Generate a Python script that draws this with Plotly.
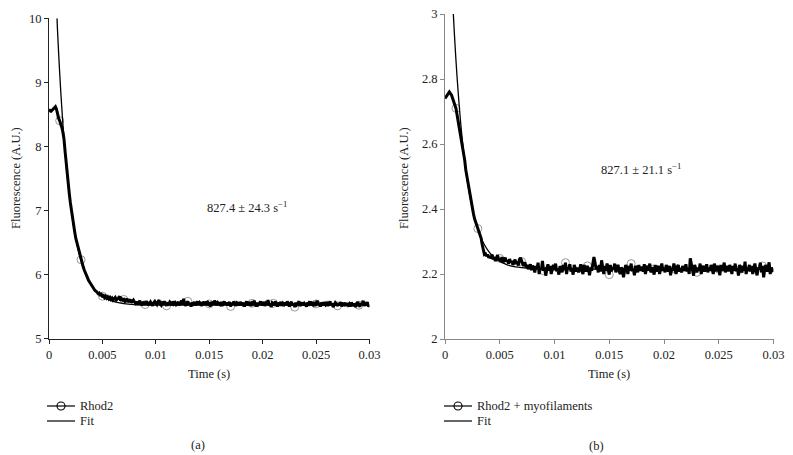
import numpy as np
import plotly.graph_objects as go

# ---------------- data ----------------
DT = 0.0001  # sampling interval of the traces (s)

rhod2_y = [
    8.54, 8.56, 8.55, 8.57, 8.58, 8.60, 8.62,
    8.58, 8.50, 8.44, 8.40, 8.36, 8.30, 8.22,
    8.12, 7.93, 7.74, 7.56, 7.41, 7.26, 7.12,
    6.99, 6.88, 6.77, 6.67, 6.57, 6.50, 6.42, 6.35, 6.28, 6.23,
    6.17, 6.12, 6.07, 6.02, 5.98, 5.95, 5.91, 5.88, 5.85, 5.83,
    5.80, 5.78, 5.75, 5.74, 5.72, 5.70, 5.71, 5.68, 5.69, 5.66,
    5.67, 5.64, 5.66, 5.63, 5.65, 5.62, 5.64, 5.61, 5.63, 5.60,
    5.62, 5.64, 5.60, 5.61, 5.63, 5.66, 5.59, 5.62, 5.60, 5.61,
    5.58, 5.60, 5.62, 5.57, 5.59, 5.61, 5.56, 5.58, 5.60, 5.57,
    5.55, 5.58, 5.53, 5.56, 5.59, 5.54, 5.52, 5.57, 5.55, 5.53, 5.58, 5.56, 5.52, 5.55, 5.57, 5.54, 5.51, 5.56, 5.58, 5.55,
    5.53, 5.57, 5.60, 5.54, 5.52, 5.56, 5.55, 5.58, 5.53, 5.51, 5.56, 5.54, 5.57, 5.55, 5.52, 5.58, 5.54, 5.56, 5.53, 5.55,
    5.57, 5.52, 5.55, 5.59, 5.53, 5.62, 5.54, 5.51, 5.56, 5.58, 5.53, 5.55, 5.50, 5.56, 5.54, 5.57, 5.52, 5.55, 5.58, 5.53,
    5.56, 5.54, 5.51, 5.57, 5.55, 5.53, 5.58, 5.52, 5.56, 5.54, 5.50, 5.57, 5.55, 5.53, 5.59, 5.54, 5.52, 5.56, 5.55, 5.53,
    5.57, 5.51, 5.55, 5.58, 5.53, 5.56, 5.52, 5.54, 5.57, 5.50, 5.55, 5.53, 5.58, 5.54, 5.51, 5.56, 5.55, 5.52, 5.57, 5.54,
    5.53, 5.56, 5.50, 5.55, 5.58, 5.52, 5.54, 5.57, 5.51, 5.55, 5.53, 5.59, 5.54, 5.50, 5.56, 5.53, 5.55, 5.58, 5.52, 5.54,
    5.57, 5.51, 5.55, 5.53, 5.60, 5.52, 5.54, 5.49, 5.56, 5.55, 5.52, 5.58, 5.53, 5.50, 5.56, 5.54, 5.57, 5.51, 5.55, 5.53,
    5.56, 5.52, 5.58, 5.54, 5.50, 5.55, 5.57, 5.52, 5.54, 5.49, 5.56, 5.53, 5.55, 5.58, 5.51, 5.54, 5.56, 5.52, 5.55, 5.53,
    5.50, 5.56, 5.54, 5.58, 5.52, 5.55, 5.53, 5.57, 5.51, 5.54, 5.59, 5.53, 5.55, 5.50, 5.56, 5.54, 5.52, 5.57, 5.53, 5.55,
    5.51, 5.54, 5.58, 5.52, 5.55, 5.49, 5.53, 5.56, 5.54, 5.51, 5.55, 5.52, 5.57, 5.50, 5.54, 5.53, 5.56, 5.51, 5.55, 5.52,
    5.54, 5.50, 5.56, 5.53, 5.51, 5.55, 5.49, 5.54, 5.57, 5.52, 5.50, 5.55, 5.53, 5.59, 5.51, 5.54, 5.52, 5.57, 5.50, 5.52,
]

rhod2_fit_t = [0.00075, 0.0008, 0.0009, 0.0010, 0.0011, 0.0012, 0.0013, 0.0014, 0.0015,
               0.0016, 0.0017, 0.0018, 0.0019, 0.0020, 0.0022, 0.0024, 0.0026, 0.0028,
               0.0030, 0.0033, 0.0036, 0.0040, 0.0045, 0.0050, 0.0055, 0.0060, 0.0070,
               0.0080, 0.0100, 0.0150, 0.0200, 0.0250, 0.0300]
rhod2_fit_y = [10.0, 9.80, 9.46, 9.15, 8.86, 8.60, 8.35, 8.13, 7.92,
               7.73, 7.55, 7.40, 7.25, 7.11, 6.87, 6.66, 6.49, 6.34,
               6.21, 6.06, 5.94, 5.82, 5.72, 5.65, 5.61, 5.58, 5.545,
               5.53, 5.522, 5.52, 5.52, 5.52, 5.52]

myo_y = [
    2.74, 2.745, 2.75, 2.755, 2.76, 2.755, 2.75, 2.74,
    2.73, 2.72, 2.71, 2.69, 2.67, 2.655,
    2.64, 2.62, 2.60, 2.575, 2.55, 2.52, 2.50,
    2.475, 2.455, 2.435, 2.415, 2.40, 2.385, 2.37, 2.36, 2.345, 2.34,
    2.33, 2.32, 2.31, 2.29, 2.27, 2.26, 2.262, 2.255, 2.26, 2.25,
    2.255, 2.248, 2.26, 2.245, 2.252, 2.24, 2.25, 2.258, 2.243, 2.248,
    2.24, 2.252, 2.236, 2.245, 2.25, 2.238, 2.242, 2.232, 2.246, 2.235,
    2.24, 2.228, 2.236, 2.244, 2.23, 2.238, 2.226, 2.245, 2.25, 2.238,
    2.23, 2.225, 2.236, 2.22, 2.228, 2.215, 2.222, 2.23, 2.212, 2.225,
    2.22, 2.205, 2.225, 2.215, 2.235, 2.2, 2.218, 2.212, 2.24, 2.21, 2.22, 2.195, 2.215, 2.23, 2.21, 2.225, 2.2, 2.218, 2.228, 2.212,
    2.232, 2.208, 2.215, 2.198, 2.224, 2.218, 2.205, 2.228, 2.212, 2.235, 2.2, 2.22, 2.215, 2.23, 2.208, 2.218, 2.198, 2.228, 2.215, 2.208,
    2.22, 2.205, 2.216, 2.23, 2.21, 2.2, 2.228, 2.218, 2.208, 2.225, 2.215, 2.196, 2.22, 2.21, 2.232, 2.252, 2.235, 2.215, 2.225, 2.205,
    2.228, 2.208, 2.242, 2.215, 2.2, 2.225, 2.21, 2.232, 2.218, 2.198, 2.228, 2.208, 2.22, 2.215, 2.232, 2.205, 2.218, 2.228, 2.21, 2.2,
    2.22, 2.215, 2.19, 2.208, 2.228, 2.218, 2.2, 2.225, 2.21, 2.232, 2.208, 2.215, 2.196, 2.225, 2.218, 2.205, 2.228, 2.21, 2.222, 2.215,
    2.208, 2.23, 2.2, 2.218, 2.225, 2.21, 2.232, 2.205, 2.22, 2.215, 2.198, 2.228, 2.208, 2.218, 2.225, 2.2, 2.215, 2.232, 2.21, 2.22,
    2.205, 2.228, 2.215, 2.208, 2.225, 2.196, 2.218, 2.21, 2.232, 2.215, 2.2, 2.22, 2.228, 2.208, 2.218, 2.205, 2.225, 2.215, 2.21, 2.23,
    2.208, 2.218, 2.2, 2.248, 2.225, 2.21, 2.195, 2.228, 2.215, 2.205, 2.22, 2.21, 2.232, 2.2, 2.218, 2.225, 2.208, 2.215, 2.23, 2.205,
    2.22, 2.21, 2.228, 2.215, 2.2, 2.232, 2.218, 2.208, 2.225, 2.215, 2.196, 2.228, 2.21, 2.218, 2.235, 2.205, 2.215, 2.225, 2.208, 2.228,
    2.215, 2.2, 2.225, 2.21, 2.232, 2.208, 2.218, 2.195, 2.228, 2.215, 2.205, 2.225, 2.21, 2.238, 2.2, 2.218, 2.215, 2.228, 2.208, 2.225,
    2.2, 2.218, 2.232, 2.21, 2.196, 2.22, 2.215, 2.235, 2.205, 2.225, 2.19, 2.215, 2.228, 2.208, 2.218, 2.236, 2.2, 2.22, 2.21, 2.212,
]

myo_fit_t = [0.00076, 0.0008, 0.0009, 0.0010, 0.0011, 0.0012, 0.0013, 0.0014, 0.0015,
             0.0016, 0.0017, 0.0018, 0.0019, 0.0020, 0.0022, 0.0024, 0.0026, 0.0028,
             0.0030, 0.0033, 0.0036, 0.0040, 0.0045, 0.0050, 0.0055, 0.0060, 0.0070,
             0.0080, 0.0100, 0.0150, 0.0200, 0.0250, 0.0300]
myo_fit_y = [3.0, 2.975, 2.914, 2.858, 2.807, 2.761, 2.717, 2.677, 2.640,
             2.607, 2.576, 2.548, 2.521, 2.496, 2.453, 2.417, 2.386, 2.360,
             2.338, 2.311, 2.290, 2.269, 2.251, 2.239, 2.231, 2.225, 2.2195,
             2.217, 2.2155, 2.215, 2.215, 2.215, 2.215]

x_ticks = [0, 0.005, 0.01, 0.015, 0.02, 0.025, 0.03]
x_ticktext = ["0", "0.005", "0.01", "0.015", "0.02", "0.025", "0.03"]
y1_ticks = [5, 6, 7, 8, 9, 10]
y2_ticks = [2, 2.2, 2.4, 2.6, 2.8, 3]
y2_ticktext = ["2", "2.2", "2.4", "2.6", "2.8", "3"]

rate_a = "827.4 ± 24.3 s<sup>−1</sup>"
rate_b = "827.1 ± 21.1 s<sup>−1</sup>"
legend_a = ["Rhod2", "Fit"]
legend_b = ["Rhod2 + myofilaments", "Fit"]

# ---------------- figure ----------------
FONT = "Liberation Serif"
TXT = "#222"
MARK_EVERY = 20
MARK_START = 10
PAGE_W, PAGE_H = 793, 455
OFF = 8                      # default page margin of the html body
W, H = PAGE_W - OFF, PAGE_H - OFF


def px_x(p):
    """page pixel x -> paper fraction"""
    return (p - OFF) / W


def px_y(p):
    """page pixel y (from top) -> paper fraction"""
    return 1 - (p - OFF) / H


def times(vals):
    return [round(i * DT, 6) for i in range(len(vals))]


fig = go.Figure()


def add_panel(yvals, fit_t, fit_y, xa, ya):
    t = times(yvals)
    # sparse open-circle markers (drawn under the trace)
    fig.add_trace(go.Scatter(x=t[MARK_START::MARK_EVERY], y=yvals[MARK_START::MARK_EVERY],
                             mode="markers", xaxis=xa, yaxis=ya,
                             marker=dict(symbol="circle-open", size=8, color="#999",
                                         line=dict(width=1)),
                             showlegend=False, hoverinfo="skip"))
    # data trace (thick black line)
    fig.add_trace(go.Scatter(x=t, y=yvals, mode="lines", xaxis=xa, yaxis=ya,
                             line=dict(color="black", width=3), showlegend=False,
                             hoverinfo="skip"))
    # fit
    fig.add_trace(go.Scatter(x=fit_t, y=fit_y, mode="lines", xaxis=xa, yaxis=ya,
                             line=dict(color="black", width=1.3, shape="spline"),
                             showlegend=False, hoverinfo="skip"))


add_panel(rhod2_y, rhod2_fit_t, rhod2_fit_y, "x", "y")
add_panel(myo_y, myo_fit_t, myo_fit_y, "x2", "y2")

tfont = dict(family=FONT, size=12.5, color=TXT)
axis_common = dict(showgrid=False, zeroline=False, showline=True, ticks="outside",
                   ticklen=4, tickwidth=1, automargin=False, ticklabeloverflow="allow",
                   tickfont=dict(family=FONT, size=12.5, color=TXT))

annotations = [
    dict(text=rate_a, x=px_x(247), y=px_y(207)),
    dict(text=rate_b, x=px_x(641), y=px_y(169)),
    dict(text="(a)", x=px_x(198), y=px_y(445)),
    dict(text="(b)", x=px_x(596), y=px_y(446)),
    dict(text="Time (s)", x=px_x(209), y=px_y(374)),
    dict(text="Time (s)", x=px_x(609), y=px_y(374)),
    dict(text="Fluorescence (A.U.)", x=px_x(16), y=px_y(178), textangle=-90),
    dict(text="Fluorescence (A.U.)", x=px_x(404), y=px_y(178), textangle=-90),
]

# legends (symbol + label), one block under each panel
shapes = []
for x0, labels in ((47, legend_a), (444, legend_b)):
    for row, lab in enumerate(labels):
        yy = 406 + 15 * row
        shapes.append(dict(type="line", xref="paper", yref="paper",
                           x0=px_x(x0), x1=px_x(x0 + 28), y0=px_y(yy), y1=px_y(yy),
                           line=dict(color="black", width=1.2)))
        if row == 0:
            shapes.append(dict(type="circle", xref="paper", yref="paper",
                               x0=px_x(x0 + 10), x1=px_x(x0 + 18),
                               y0=px_y(yy - 4), y1=px_y(yy + 4),
                               line=dict(color="black", width=1.1)))
        annotations.append(dict(text=lab, x=px_x(x0 + 31), y=px_y(yy), xanchor="left"))

for a in annotations:
    a.update(xref="paper", yref="paper", showarrow=False, font=tfont)
    a.setdefault("xanchor", "center")
    a.setdefault("yanchor", "middle")

fig.update_layout(
    width=W, height=H,
    margin=dict(l=0, r=0, t=0, b=0),
    paper_bgcolor="white", plot_bgcolor="white",
    font=dict(family=FONT, size=12.5, color=TXT),
    showlegend=False,
    xaxis=dict(domain=[px_x(49), px_x(369.5)], range=[0, 0.03], anchor="y",
               tickvals=x_ticks, ticktext=x_ticktext, linecolor="#222", tickcolor="#222",
               **axis_common),
    yaxis=dict(domain=[px_y(338.5), px_y(18.3)], range=[5, 10], anchor="x",
               tickvals=y1_ticks, linecolor="#222", tickcolor="#222",
               **axis_common),
    xaxis2=dict(domain=[px_x(445), px_x(773.5)], range=[0, 0.03], anchor="y2",
                tickvals=x_ticks, ticktext=x_ticktext, linecolor="#888", tickcolor="#888",
                **axis_common),
    yaxis2=dict(domain=[px_y(339), px_y(14)], range=[2, 3], anchor="x2",
                tickvals=y2_ticks, ticktext=y2_ticktext, linecolor="#888", tickcolor="#888",
                **axis_common),
    shapes=shapes,
    annotations=annotations,
)

fig.write_html("out.html")
